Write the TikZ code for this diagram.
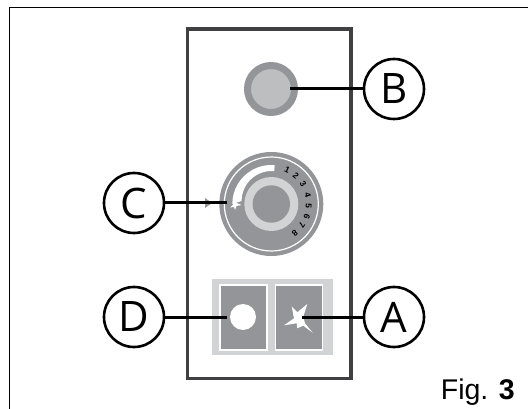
\documentclass[tikz,border=0pt]{standalone}
\usepackage{fontspec}
\usetikzlibrary{calc}
\setmainfont{Liberation Sans}
\newfontfamily\calloutfont{Open Sans}
\definecolor{panel-draw}{RGB}{64,64,66}
\definecolor{knob-color}{RGB}{147,149,152}
\definecolor{light-color}{RGB}{209,211,212}
\definecolor{lamp-color}{RGB}{188,190,192}
\tikzset{callout/.style={circle, draw=black, line width=2.6pt, fill=white, minimum size=60pt, inner sep=0pt, font=\calloutfont\fontsize{42}{42}\selectfont},
    lead/.style={black, line width=3pt},
    keycap/.style={draw=white, line width=1.2pt, fill=knob-color, minimum width=47pt, minimum height=65pt, inner sep=0pt}}

\begin{document}
\begin{tikzpicture}[x=1pt, y=-1pt]
    \useasboundingbox (0,0) rectangle (528,409);
    % Outer frame
    \draw[black, line width=1.3pt] (9.5,409) -- (9.5,7.5) -- (528,7.5);

    % Front panel
    \draw[panel-draw, line width=3.4pt, fill=white] (187.5,29) rectangle (351,378.5);

    % Lamp
    \node[circle, fill=lamp-color, draw=knob-color, line width=7pt, minimum size=47pt, inner sep=0pt] (lamp) at (271,89) {};

    % Dial
    \coordinate (dial) at (271.3,204);
    \fill[knob-color] (dial) circle (52pt);
    \draw[white, line width=1.2pt] (dial) circle (47pt);
    \fill[white] ($(dial)+(180:39pt)$) arc (180:85:39pt) -- ($(dial)+(85:33pt)$) arc (85:180:30pt) -- cycle;
    \fill[light-color] (dial) circle (27pt);
    \fill[knob-color] (dial) circle (18.7pt);
    \foreach \num/\ang in {1/65, 2/49, 3/32, 4/14, 5/-3, 6/-19, 7/-35, 8/-51} {
        \node[font=\bfseries\fontsize{8.5}{8.5}\selectfont, rotate=\ang-90, inner sep=0pt] (num\num) at ($(dial)+(\ang:37.5pt)$) {\num};
    }
    \fill[white] (236,198) -- (236.5,203) -- (241.7,205) -- (236.5,206) -- (235,210) -- (234,207) -- (230,207.5) -- (233,204.5) -- cycle;
    \fill[knob-color] (205,198) -- (212,203) -- (205,208) -- cycle;

    % Push buttons
    \fill[light-color] (212,279) rectangle (333,355);
    \node[keycap] (keyd) at (243.5,317.5) {};
    \node[keycap] (keya) at (299,317.5) {};
    \node[circle, fill=white, minimum size=26pt, inner sep=0pt] (spot) at (243,317) {};
    \fill[white] (291.7,306.7) -- (297.3,312.3) -- (307.3,304) -- (303.3,316.7) -- (305,323.3) -- (312.7,332.7) -- (303.3,325.7) -- (297.3,328.3) -- (296.7,323.3) -- (284,325.3) -- (294,318.3) -- cycle;

    % Callouts
    \node[callout] (labelb) at (394,89) {B};
    \node[callout] (labelc) at (134,203) {C};
    \node[callout] (labeld) at (134,317) {D};
    \node[callout] (labela) at (394,317) {A};
    \coordinate (tipb) at (290,89);
    \coordinate (tipc) at (227,203);
    \coordinate (tipd) at (226.6,317);
    \coordinate (tipa) at (302,317);
    \draw[lead] (labelb) -- (tipb);
    \draw[lead] (labelc) -- (tipc);
    \draw[lead] (labeld) -- (tipd);
    \draw[lead] (labela) -- (tipa);

    \node[anchor=base east, font=\fontsize{28.5}{28.5}\selectfont, inner sep=0pt] (figlabel) at (515,399) {Fig. \textbf{3}};
\end{tikzpicture}
\end{document}
